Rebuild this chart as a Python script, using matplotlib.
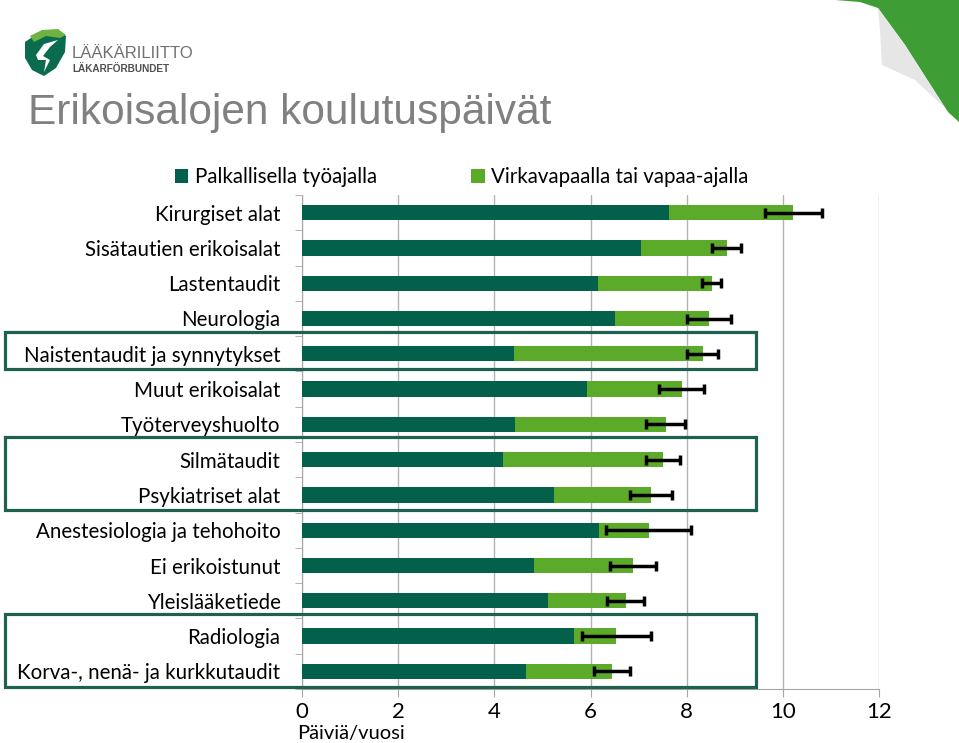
import numpy as np
import matplotlib.pyplot as plt
import matplotlib.transforms as mtransforms
from matplotlib.patches import Rectangle, Polygon

# Data (days per year)
labels = ["Kirurgiset alat", "Sisätautien erikoisalat", "Lastentaudit", "Neurologia",
          "Naistentaudit ja synnytykset", "Muut erikoisalat", "Työterveyshuolto",
          "Silmätaudit", "Psykiatriset alat", "Anestesiologia ja tehohoito",
          "Ei erikoistunut", "Yleislääketiede", "Radiologia", "Korva-, nenä- ja kurkkutaudit"]
paid = [7.64, 7.05, 6.15, 6.51, 4.40, 5.92, 4.43, 4.19, 5.24, 6.18, 4.83, 5.12, 5.65, 4.66]
free = [2.58, 1.78, 2.37, 1.96, 3.93, 1.98, 3.13, 3.32, 2.02, 1.03, 2.06, 1.61, 0.89, 1.79]
err = [0.60, 0.30, 0.20, 0.46, 0.32, 0.47, 0.40, 0.35, 0.44, 0.88, 0.48, 0.38, 0.71, 0.37]
series_names = ["Palkallisella työajalla", "Virkavapaalla tai vapaa-ajalla"]
highlight_rows = [(4, 4), (7, 8), (12, 13)]
xticks = [0, 2, 4, 6, 8, 10, 12]

DARK = "#03614B"
LIGHT = "#5BAA2A"
BOX = "#1E6151"

plt.rcParams['font.family'] = ['Lato', 'DejaVu Sans']

fig = plt.figure(figsize=(9.59, 7.43), dpi=100)
ax = fig.add_axes([302 / 959, 1 - 689 / 743, 577 / 959, 494 / 743])

y = np.arange(len(labels))
paid = np.array(paid)
free = np.array(free)
b1 = ax.barh(y, paid, height=0.43, color=DARK, label=series_names[0], zorder=3)
b2 = ax.barh(y, free, left=paid, height=0.43, color=LIGHT, label=series_names[1], zorder=3)
ax.errorbar(paid + free, y, xerr=err, fmt="none", ecolor="black", elinewidth=2.5,
            capsize=3.5, capthick=2.5, zorder=4)

ax.set_xlim(0, 12)
ax.set_ylim(len(labels) - 0.5, -0.5)
ax.set_xticks(xticks)
ax.set_yticks(y)
ax.set_yticklabels(labels, fontsize=14.8)
ax.set_yticks(np.arange(len(labels) + 1) - 0.5, minor=True)
ax.tick_params(axis="y", which="major", length=0, pad=15.5)
ax.tick_params(axis="y", which="minor", length=5, color="#a6a6a6", direction="out")
ax.tick_params(axis="x", length=6, color="#a6a6a6", labelsize=16, pad=3.5)
ax.grid(axis="x", color="#b3b3b3", linewidth=1, zorder=0)
for s in ["top", "right"]:
    ax.spines[s].set_visible(False)
for s in ["left", "bottom"]:
    ax.spines[s].set_color("#a6a6a6")

fig.text(297 / 959, 1 / 743, "Päiviä/vuosi", fontsize=14.5, va="bottom", ha="left")

fig.legend(handles=[b1, b2], loc="center left", bbox_to_anchor=(175 / 959, 1 - 177 / 743),
           ncol=2, frameon=False, fontsize=14.8, handlelength=0.65, handleheight=0.65,
           handletextpad=0.3, columnspacing=4.6, borderaxespad=0, borderpad=0)

# highlight boxes (x in figure coords, y in data coords)
trans = mtransforms.blended_transform_factory(fig.transFigure, ax.transData)
for first, last in highlight_rows:
    top = first - 0.63
    bottom = last + 0.43
    fig.add_artist(Rectangle((5 / 959, top), (756 - 5) / 959, bottom - top, transform=trans,
                             fill=False, edgecolor=BOX, linewidth=2.3, clip_on=False, zorder=5))

# title
fig.text(28 / 959, 1 - 124 / 743, "Erikoisalojen koulutuspäivät", fontsize=30.5,
         color="#808080", family="Liberation Sans", va="baseline")

# logo
fig.text(72 / 959, 1 - 58 / 743, "LÄÄKÄRILIITTO", fontsize=12, color="#707070",
         family="Liberation Sans", va="baseline")
fig.text(72 / 959, 1 - 72 / 743, "LÄKARFÖRBUNDET", fontsize=7.2, color="#505050",
         family="Liberation Sans", weight="bold", va="baseline")
fw, fh = 959, 743
def fp(pts):
    return [(px / fw, 1 - py / fh) for px, py in pts]
fig.add_artist(Polygon(fp([(25, 42), (40, 32), (58, 30), (66, 36), (65, 52), (56, 68),
                           (44, 76), (32, 70), (25, 58)]), closed=True,
                       facecolor="#0B6B4E", edgecolor="none", transform=fig.transFigure))
fig.add_artist(Polygon(fp([(30, 36), (42, 30), (58, 29), (66, 35), (60, 38), (46, 36), (34, 42)]),
                       closed=True, facecolor="#6CB33F", edgecolor="none",
                       transform=fig.transFigure))
fig.add_artist(Polygon(fp([(36, 55), (44, 44), (58, 40), (50, 47), (43, 56), (50, 60), (44, 72),
                           (46, 60), (38, 60)]), closed=True,
                       facecolor="white", edgecolor="none", transform=fig.transFigure))

# page curl in the corner
fig.add_artist(Polygon(fp([(835, 0), (959, 0), (959, 122), (948, 112), (905, 45), (878, 8), (860, 2)]),
                       closed=True, facecolor="#3E9E35", edgecolor="none", transform=fig.transFigure))
fig.add_artist(Polygon(fp([(878, 8), (905, 45), (945, 108), (915, 80), (882, 65), (880, 30)]),
                       closed=True, facecolor="#e6e6e6", edgecolor="none", transform=fig.transFigure))

fig.savefig("out.png", dpi=100)
